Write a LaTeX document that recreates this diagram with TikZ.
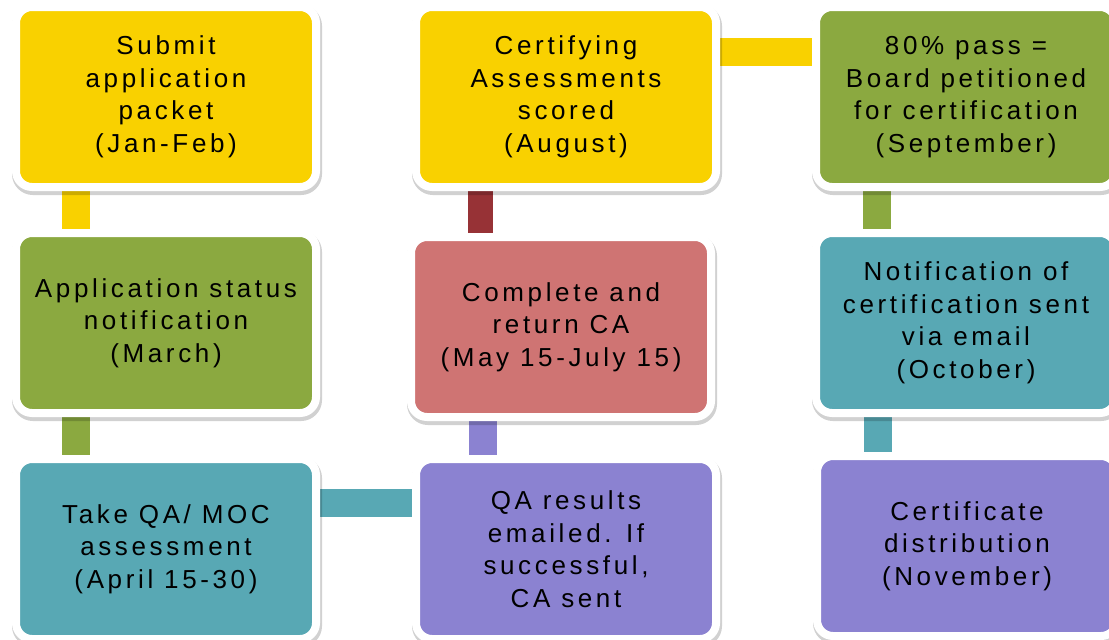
\documentclass[tikz,border=0pt]{standalone}
\usepackage{fontspec}
\setmainfont[LetterSpace=14]{Liberation Sans}
\usetikzlibrary{positioning,backgrounds,shadows}

\definecolor{cyel}{HTML}{F9D100}
\definecolor{cgrn}{HTML}{8BA940}
\definecolor{cteal}{HTML}{58A8B4}
\definecolor{cred}{HTML}{CF7473}
\definecolor{cdred}{HTML}{973236}
\definecolor{cpur}{HTML}{8B82D1}

\begin{document}
\begin{tikzpicture}[x=1pt,y=-1pt,
    stage/.style={draw=white,line width=8pt,rounded corners=16pt,
      minimum width=300pt,minimum height=180pt,inner sep=0pt,align=center,
      font=\fontsize{26}{32.5}\selectfont,
      drop shadow={shadow xshift=1pt,shadow yshift=-3pt,opacity=.18,
        fill=black,draw=black,line width=10pt}},
    link/.style={line width=28pt}]
\useasboundingbox (0,0) rectangle (1109,640);

% first column
\node (sub) [stage,fill=cyel] at (166,97) {Submit\\application\\packet\\(Jan-Feb)};
\node (app) [stage,fill=cgrn] at (166,323) {Application status\\notification\\(March)};
\node (take) [stage,fill=cteal] at (166,549) {Take QA/ MOC\\assessment\\(April 15-30)};

% second column
\node (qa) [stage,fill=cpur] at (566,549) {QA results\\emailed. If\\successful,\\CA sent};
\node (ca) [stage,fill=cred] at (561,327) {Complete and\\return CA\\(May 15-July 15)};
\node (cas) [stage,fill=cyel] at (566,97) {Certifying\\Assessments\\scored\\(August)};

% third column
\node (brd) [stage,fill=cgrn] at (966,97) {80\% pass =\\Board petitioned\\for certification\\(September)};
\node (ntf) [stage,fill=cteal] at (966,323) {Notification of\\certification sent\\via email\\(October)};
\node (crt) [stage,fill=cpur] at (967,546) {Certificate\\distribution\\(November)};

\begin{scope}[on background layer]
\draw[link,cyel] ([xshift=-90pt]sub.center) -- ([xshift=-90pt]app.center);
\draw[link,cgrn] ([xshift=-90pt]app.center) -- ([xshift=-90pt]take.center);
\draw[link,cteal] ([yshift=46pt]take.center) -- ([yshift=46pt]qa.center);
\draw[link,cpur] ([xshift=-83pt]qa.center) -- ([xshift=-78pt]ca.center);
\draw[link,line width=25pt,cdred] ([xshift=-81pt]ca.center) -- ([xshift=-86pt]cas.center);
\draw[link,cyel] ([yshift=45pt]cas.center) -- ([yshift=45pt]brd.center);
\draw[link,cgrn] ([xshift=-89pt]brd.center) -- ([xshift=-89pt]ntf.center);
\draw[link,cteal] ([xshift=-88pt]ntf.center) -- ([xshift=-89pt]crt.center);
\end{scope}
\end{tikzpicture}
\end{document}
